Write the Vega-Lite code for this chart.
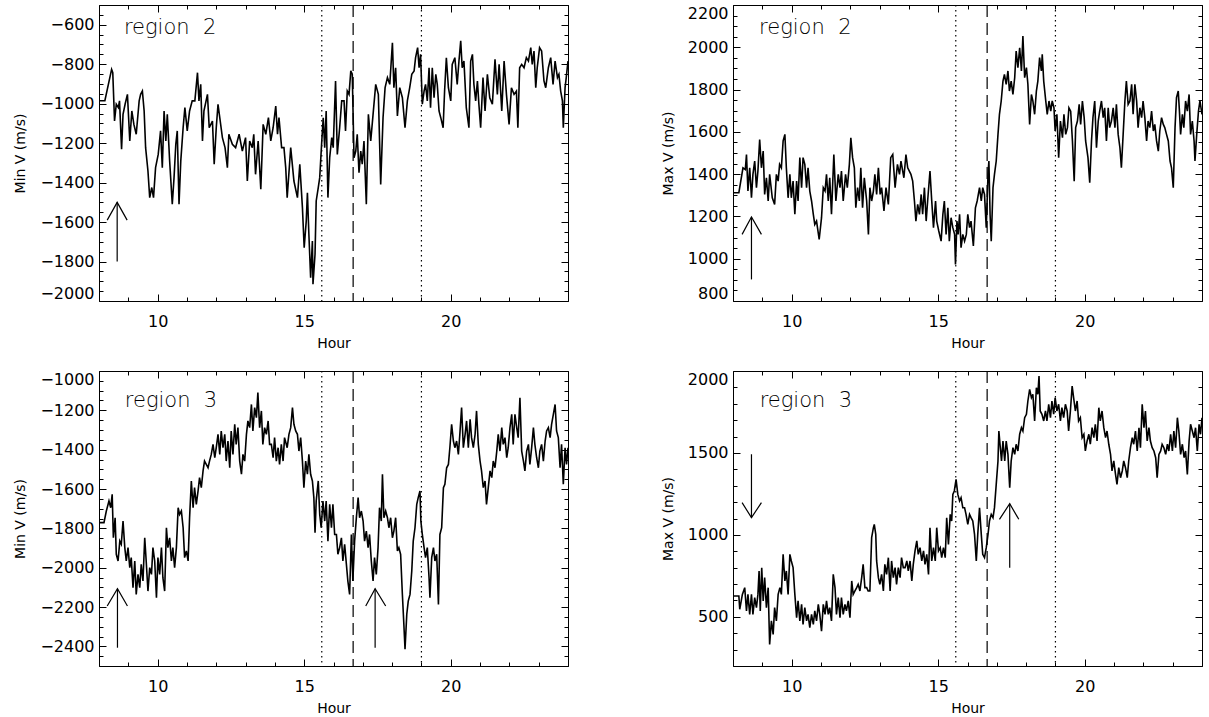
{
"$schema": "https://vega.github.io/schema/vega-lite/v6.json",
"padding": {"left": 13, "top": 4, "right": 0, "bottom": 0},
"columns": 2,
"spacing": {"row": 70, "column": 165},
"bounds": "flush",
"config": {
  "view": {"stroke": null},
  "axis": {"domainColor": "black", "tickColor": "black", "labelColor": "black", "titleColor": "black", "labelFont": "DejaVu Sans", "labelFontSize": 16, "titleFont": "DejaVu Sans", "titleFontSize": 14, "titleFontWeight": "normal", "grid": false, "domainWidth": 1, "tickWidth": 1}
},
"datasets": {
"vl": [{"h":15.6,"k":"dot"},{"h":16.67,"k":"dash"},{"h":19.0,"k":"dot"}],
"tA": [{"h":8.85,"v":-648,"t":"region\u00a0\u00a02"}],
"tB": [{"h":8.89,"v":2061,"t":"region\u00a0\u00a02"}],
"tC": [{"h":8.88,"v":-1181,"t":"region\u00a0\u00a03"}],
"tD": [{"h":8.91,"v":1782,"t":"region\u00a0\u00a03"}],
"arA": [{"id":"s","h":8.62,"v":-1800},{"id":"s","h":8.62,"v":-1500},{"id":"a","h":8.28,"v":-1590},{"id":"a","h":8.62,"v":-1500},{"id":"a","h":8.96,"v":-1590}],
"arB": [{"id":"s","h":8.63,"v":902},{"id":"s","h":8.63,"v":1197},{"id":"a","h":8.31,"v":1115},{"id":"a","h":8.63,"v":1197},{"id":"a","h":8.97,"v":1115}],
"arC": [{"id":"s1","h":8.63,"v":-2407},{"id":"s1","h":8.63,"v":-2107},{"id":"a1","h":8.28,"v":-2195},{"id":"a1","h":8.63,"v":-2107},{"id":"a1","h":8.97,"v":-2195},{"id":"s2","h":17.42,"v":-2407},{"id":"s2","h":17.42,"v":-2107},{"id":"a2","h":17.1,"v":-2195},{"id":"a2","h":17.42,"v":-2107},{"id":"a2","h":17.78,"v":-2195}],
"arD": [{"id":"s1","h":8.63,"v":1492},{"id":"s1","h":8.63,"v":1105},{"id":"a1","h":8.31,"v":1197},{"id":"a1","h":8.63,"v":1105},{"id":"a1","h":8.97,"v":1197},{"id":"s2","h":17.44,"v":800},{"id":"s2","h":17.44,"v":1190},{"id":"a2","h":17.09,"v":1095},{"id":"a2","h":17.44,"v":1190},{"id":"a2","h":17.75,"v":1095}],
"A": [{"h":8.0,"v":-985},{"h":8.2,"v":-985},{"h":8.43,"v":-826},{"h":8.47,"v":-843},{"h":8.53,"v":-1088},{"h":8.59,"v":-1003},{"h":8.66,"v":-1020},{"h":8.7,"v":-986},{"h":8.77,"v":-1231},{"h":8.82,"v":-1054},{"h":8.89,"v":-1003},{"h":8.97,"v":-953},{"h":9.05,"v":-1189},{"h":9.12,"v":-1037},{"h":9.19,"v":-1105},{"h":9.27,"v":-1155},{"h":9.37,"v":-986},{"h":9.42,"v":-953},{"h":9.48,"v":-936},{"h":9.54,"v":-1037},{"h":9.59,"v":-1223},{"h":9.67,"v":-1341},{"h":9.73,"v":-1476},{"h":9.8,"v":-1425},{"h":9.86,"v":-1476},{"h":9.93,"v":-1324},{"h":10.02,"v":-1257},{"h":10.1,"v":-1138},{"h":10.16,"v":-1324},{"h":10.22,"v":-1037},{"h":10.28,"v":-1189},{"h":10.33,"v":-1054},{"h":10.41,"v":-1290},{"h":10.5,"v":-1510},{"h":10.56,"v":-1375},{"h":10.62,"v":-1206},{"h":10.67,"v":-1138},{"h":10.73,"v":-1510},{"h":10.79,"v":-1290},{"h":10.87,"v":-1122},{"h":10.93,"v":-1020},{"h":11.01,"v":-1138},{"h":11.09,"v":-1037},{"h":11.18,"v":-986},{"h":11.27,"v":-986},{"h":11.36,"v":-843},{"h":11.41,"v":-986},{"h":11.47,"v":-902},{"h":11.53,"v":-1189},{"h":11.58,"v":-1037},{"h":11.7,"v":-953},{"h":11.76,"v":-1122},{"h":11.87,"v":-1088},{"h":11.93,"v":-1307},{"h":12.0,"v":-1122},{"h":12.06,"v":-1003},{"h":12.12,"v":-1071},{"h":12.21,"v":-1172},{"h":12.3,"v":-1223},{"h":12.38,"v":-1324},{"h":12.43,"v":-1155},{"h":12.55,"v":-1206},{"h":12.66,"v":-1223},{"h":12.78,"v":-1155},{"h":12.89,"v":-1240},{"h":13.0,"v":-1172},{"h":13.06,"v":-1392},{"h":13.14,"v":-1189},{"h":13.23,"v":-1223},{"h":13.28,"v":-1155},{"h":13.34,"v":-1358},{"h":13.43,"v":-1189},{"h":13.52,"v":-1434},{"h":13.6,"v":-1105},{"h":13.69,"v":-1155},{"h":13.78,"v":-1071},{"h":13.86,"v":-1189},{"h":13.94,"v":-1122},{"h":14.03,"v":-1012},{"h":14.09,"v":-1155},{"h":14.14,"v":-1071},{"h":14.23,"v":-1223},{"h":14.31,"v":-1223},{"h":14.37,"v":-1324},{"h":14.42,"v":-1476},{"h":14.54,"v":-1223},{"h":14.65,"v":-1392},{"h":14.77,"v":-1476},{"h":14.85,"v":-1307},{"h":14.94,"v":-1527},{"h":15.0,"v":-1730},{"h":15.07,"v":-1595},{"h":15.11,"v":-1451},{"h":15.16,"v":-1662},{"h":15.22,"v":-1882},{"h":15.28,"v":-1696},{"h":15.3,"v":-1915},{"h":15.37,"v":-1763},{"h":15.41,"v":-1493},{"h":15.48,"v":-1425},{"h":15.53,"v":-1375},{"h":15.6,"v":-1189},{"h":15.65,"v":-1071},{"h":15.7,"v":-1223},{"h":15.75,"v":-1037},{"h":15.81,"v":-1476},{"h":15.87,"v":-1274},{"h":15.94,"v":-1172},{"h":15.99,"v":-1223},{"h":16.07,"v":-885},{"h":16.13,"v":-1257},{"h":16.21,"v":-1122},{"h":16.28,"v":-986},{"h":16.36,"v":-986},{"h":16.41,"v":-1138},{"h":16.47,"v":-936},{"h":16.53,"v":-953},{"h":16.59,"v":-834},{"h":16.64,"v":-851},{"h":16.7,"v":-1274},{"h":16.76,"v":-1240},{"h":16.81,"v":-1155},{"h":16.87,"v":-1350},{"h":16.93,"v":-1240},{"h":16.98,"v":-1307},{"h":17.04,"v":-1189},{"h":17.12,"v":-1510},{"h":17.19,"v":-1054},{"h":17.27,"v":-1189},{"h":17.35,"v":-1054},{"h":17.44,"v":-902},{"h":17.53,"v":-953},{"h":17.61,"v":-1409},{"h":17.69,"v":-1071},{"h":17.76,"v":-919},{"h":17.84,"v":-868},{"h":17.92,"v":-902},{"h":18.01,"v":-691},{"h":18.06,"v":-919},{"h":18.12,"v":-818},{"h":18.18,"v":-1062},{"h":18.26,"v":-919},{"h":18.35,"v":-970},{"h":18.44,"v":-1122},{"h":18.52,"v":-986},{"h":18.6,"v":-919},{"h":18.67,"v":-851},{"h":18.75,"v":-834},{"h":18.8,"v":-767},{"h":18.87,"v":-716},{"h":18.92,"v":-818},{"h":18.97,"v":-750},{"h":19.03,"v":-1003},{"h":19.09,"v":-936},{"h":19.14,"v":-902},{"h":19.2,"v":-986},{"h":19.26,"v":-818},{"h":19.31,"v":-1020},{"h":19.37,"v":-818},{"h":19.43,"v":-970},{"h":19.49,"v":-851},{"h":19.54,"v":-902},{"h":19.6,"v":-1037},{"h":19.66,"v":-1071},{"h":19.74,"v":-1122},{"h":19.79,"v":-936},{"h":19.85,"v":-767},{"h":19.92,"v":-919},{"h":20.0,"v":-986},{"h":20.05,"v":-801},{"h":20.14,"v":-767},{"h":20.22,"v":-902},{"h":20.28,"v":-784},{"h":20.34,"v":-682},{"h":20.39,"v":-818},{"h":20.45,"v":-784},{"h":20.53,"v":-1020},{"h":20.62,"v":-1122},{"h":20.68,"v":-784},{"h":20.74,"v":-750},{"h":20.79,"v":-902},{"h":20.85,"v":-986},{"h":20.91,"v":-885},{"h":20.96,"v":-1003},{"h":21.02,"v":-1122},{"h":21.1,"v":-868},{"h":21.17,"v":-1037},{"h":21.25,"v":-851},{"h":21.33,"v":-970},{"h":21.42,"v":-1003},{"h":21.51,"v":-775},{"h":21.59,"v":-953},{"h":21.65,"v":-801},{"h":21.74,"v":-1037},{"h":21.82,"v":-784},{"h":21.9,"v":-953},{"h":21.99,"v":-1105},{"h":22.07,"v":-919},{"h":22.16,"v":-953},{"h":22.24,"v":-936},{"h":22.29,"v":-1122},{"h":22.35,"v":-818},{"h":22.42,"v":-801},{"h":22.5,"v":-818},{"h":22.58,"v":-767},{"h":22.65,"v":-784},{"h":22.73,"v":-716},{"h":22.78,"v":-801},{"h":22.84,"v":-733},{"h":22.9,"v":-919},{"h":22.95,"v":-818},{"h":23.03,"v":-716},{"h":23.1,"v":-733},{"h":23.18,"v":-885},{"h":23.24,"v":-919},{"h":23.33,"v":-818},{"h":23.41,"v":-767},{"h":23.49,"v":-902},{"h":23.56,"v":-784},{"h":23.64,"v":-868},{"h":23.69,"v":-851},{"h":23.75,"v":-936},{"h":23.81,"v":-986},{"h":23.84,"v":-1122},{"h":23.9,"v":-919},{"h":23.94,"v":-868},{"h":24.0,"v":-784}],
"B": [{"h":8.0,"v":1312},{"h":8.2,"v":1312},{"h":8.34,"v":1430},{"h":8.42,"v":1422},{"h":8.46,"v":1493},{"h":8.51,"v":1320},{"h":8.57,"v":1430},{"h":8.63,"v":1288},{"h":8.68,"v":1399},{"h":8.74,"v":1462},{"h":8.8,"v":1336},{"h":8.85,"v":1415},{"h":8.91,"v":1564},{"h":8.97,"v":1430},{"h":9.03,"v":1509},{"h":9.08,"v":1304},{"h":9.14,"v":1383},{"h":9.2,"v":1273},{"h":9.25,"v":1399},{"h":9.34,"v":1288},{"h":9.42,"v":1257},{"h":9.48,"v":1399},{"h":9.54,"v":1367},{"h":9.59,"v":1446},{"h":9.65,"v":1430},{"h":9.71,"v":1557},{"h":9.77,"v":1588},{"h":9.82,"v":1430},{"h":9.88,"v":1288},{"h":9.94,"v":1399},{"h":9.99,"v":1288},{"h":10.05,"v":1367},{"h":10.11,"v":1210},{"h":10.17,"v":1367},{"h":10.22,"v":1273},{"h":10.28,"v":1478},{"h":10.34,"v":1336},{"h":10.39,"v":1478},{"h":10.45,"v":1446},{"h":10.51,"v":1336},{"h":10.56,"v":1430},{"h":10.62,"v":1320},{"h":10.68,"v":1273},{"h":10.74,"v":1210},{"h":10.79,"v":1162},{"h":10.85,"v":1178},{"h":10.94,"v":1091},{"h":11.02,"v":1194},{"h":11.08,"v":1336},{"h":11.14,"v":1320},{"h":11.19,"v":1399},{"h":11.25,"v":1273},{"h":11.3,"v":1383},{"h":11.36,"v":1210},{"h":11.44,"v":1493},{"h":11.51,"v":1273},{"h":11.59,"v":1399},{"h":11.65,"v":1336},{"h":11.7,"v":1415},{"h":11.76,"v":1273},{"h":11.84,"v":1399},{"h":11.9,"v":1336},{"h":11.97,"v":1446},{"h":12.02,"v":1572},{"h":12.08,"v":1478},{"h":12.14,"v":1430},{"h":12.19,"v":1241},{"h":12.25,"v":1336},{"h":12.31,"v":1273},{"h":12.36,"v":1430},{"h":12.42,"v":1241},{"h":12.48,"v":1383},{"h":12.56,"v":1273},{"h":12.62,"v":1115},{"h":12.67,"v":1336},{"h":12.73,"v":1273},{"h":12.79,"v":1320},{"h":12.84,"v":1399},{"h":12.9,"v":1304},{"h":12.96,"v":1430},{"h":13.02,"v":1304},{"h":13.07,"v":1336},{"h":13.15,"v":1226},{"h":13.22,"v":1336},{"h":13.3,"v":1257},{"h":13.38,"v":1478},{"h":13.45,"v":1493},{"h":13.53,"v":1336},{"h":13.61,"v":1446},{"h":13.68,"v":1399},{"h":13.73,"v":1462},{"h":13.83,"v":1383},{"h":13.9,"v":1493},{"h":13.96,"v":1430},{"h":14.07,"v":1399},{"h":14.13,"v":1367},{"h":14.19,"v":1273},{"h":14.24,"v":1178},{"h":14.3,"v":1257},{"h":14.36,"v":1210},{"h":14.42,"v":1304},{"h":14.47,"v":1210},{"h":14.53,"v":1336},{"h":14.59,"v":1178},{"h":14.64,"v":1273},{"h":14.72,"v":1415},{"h":14.78,"v":1273},{"h":14.84,"v":1147},{"h":14.91,"v":1273},{"h":14.95,"v":1178},{"h":15.02,"v":1131},{"h":15.1,"v":1083},{"h":15.16,"v":1210},{"h":15.21,"v":1273},{"h":15.27,"v":1115},{"h":15.33,"v":1241},{"h":15.38,"v":1083},{"h":15.44,"v":1194},{"h":15.5,"v":1147},{"h":15.56,"v":1115},{"h":15.59,"v":973},{"h":15.64,"v":1178},{"h":15.68,"v":1115},{"h":15.73,"v":1210},{"h":15.78,"v":1052},{"h":15.84,"v":1115},{"h":15.9,"v":1083},{"h":15.96,"v":1115},{"h":16.01,"v":1210},{"h":16.07,"v":1147},{"h":16.12,"v":1178},{"h":16.2,"v":1060},{"h":16.27,"v":1241},{"h":16.33,"v":1273},{"h":16.41,"v":1336},{"h":16.47,"v":1273},{"h":16.52,"v":1336},{"h":16.58,"v":1304},{"h":16.64,"v":1147},{"h":16.7,"v":1399},{"h":16.73,"v":1462},{"h":16.77,"v":1210},{"h":16.81,"v":1083},{"h":16.87,"v":1336},{"h":16.92,"v":1399},{"h":16.98,"v":1462},{"h":17.04,"v":1588},{"h":17.09,"v":1683},{"h":17.15,"v":1746},{"h":17.21,"v":1840},{"h":17.26,"v":1872},{"h":17.32,"v":1825},{"h":17.38,"v":1888},{"h":17.43,"v":1793},{"h":17.49,"v":1840},{"h":17.55,"v":1777},{"h":17.61,"v":1856},{"h":17.66,"v":1982},{"h":17.72,"v":1904},{"h":17.78,"v":1998},{"h":17.84,"v":1888},{"h":17.89,"v":2053},{"h":17.95,"v":1856},{"h":18.01,"v":1904},{"h":18.06,"v":1825},{"h":18.12,"v":1635},{"h":18.18,"v":1777},{"h":18.23,"v":1746},{"h":18.29,"v":1683},{"h":18.35,"v":1793},{"h":18.4,"v":1840},{"h":18.46,"v":1951},{"h":18.52,"v":1888},{"h":18.55,"v":1967},{"h":18.6,"v":1840},{"h":18.67,"v":1746},{"h":18.72,"v":1683},{"h":18.78,"v":1746},{"h":18.84,"v":1698},{"h":18.89,"v":1746},{"h":18.95,"v":1714},{"h":18.99,"v":1604},{"h":19.05,"v":1683},{"h":19.11,"v":1478},{"h":19.17,"v":1651},{"h":19.24,"v":1572},{"h":19.29,"v":1683},{"h":19.35,"v":1588},{"h":19.41,"v":1620},{"h":19.46,"v":1714},{"h":19.52,"v":1698},{"h":19.58,"v":1557},{"h":19.64,"v":1367},{"h":19.69,"v":1620},{"h":19.75,"v":1651},{"h":19.81,"v":1730},{"h":19.86,"v":1635},{"h":19.92,"v":1746},{"h":19.98,"v":1667},{"h":20.03,"v":1557},{"h":20.11,"v":1478},{"h":20.17,"v":1359},{"h":20.23,"v":1557},{"h":20.28,"v":1667},{"h":20.34,"v":1746},{"h":20.4,"v":1525},{"h":20.46,"v":1651},{"h":20.51,"v":1698},{"h":20.57,"v":1746},{"h":20.63,"v":1667},{"h":20.68,"v":1714},{"h":20.74,"v":1557},{"h":20.8,"v":1714},{"h":20.85,"v":1620},{"h":20.91,"v":1651},{"h":20.97,"v":1714},{"h":21.03,"v":1620},{"h":21.08,"v":1730},{"h":21.14,"v":1588},{"h":21.2,"v":1525},{"h":21.25,"v":1430},{"h":21.31,"v":1588},{"h":21.37,"v":1746},{"h":21.42,"v":1840},{"h":21.48,"v":1730},{"h":21.54,"v":1746},{"h":21.6,"v":1825},{"h":21.65,"v":1683},{"h":21.71,"v":1825},{"h":21.77,"v":1746},{"h":21.82,"v":1620},{"h":21.88,"v":1714},{"h":21.94,"v":1667},{"h":21.99,"v":1746},{"h":22.05,"v":1667},{"h":22.11,"v":1557},{"h":22.16,"v":1651},{"h":22.22,"v":1620},{"h":22.28,"v":1698},{"h":22.34,"v":1604},{"h":22.39,"v":1635},{"h":22.45,"v":1557},{"h":22.51,"v":1509},{"h":22.56,"v":1604},{"h":22.62,"v":1667},{"h":22.68,"v":1635},{"h":22.73,"v":1620},{"h":22.79,"v":1588},{"h":22.85,"v":1557},{"h":22.91,"v":1462},{"h":22.96,"v":1430},{"h":23.02,"v":1336},{"h":23.08,"v":1620},{"h":23.13,"v":1762},{"h":23.19,"v":1793},{"h":23.23,"v":1698},{"h":23.27,"v":1588},{"h":23.33,"v":1683},{"h":23.38,"v":1620},{"h":23.44,"v":1746},{"h":23.5,"v":1698},{"h":23.56,"v":1777},{"h":23.61,"v":1588},{"h":23.67,"v":1651},{"h":23.73,"v":1557},{"h":23.76,"v":1462},{"h":23.82,"v":1588},{"h":23.88,"v":1698},{"h":23.93,"v":1746},{"h":24.0,"v":1683}],
"C": [{"h":8.0,"v":-1771},{"h":8.17,"v":-1771},{"h":8.25,"v":-1712},{"h":8.34,"v":-1661},{"h":8.4,"v":-1695},{"h":8.45,"v":-1627},{"h":8.49,"v":-1848},{"h":8.55,"v":-1746},{"h":8.59,"v":-1932},{"h":8.65,"v":-1966},{"h":8.71,"v":-1865},{"h":8.76,"v":-1881},{"h":8.82,"v":-1763},{"h":8.88,"v":-1898},{"h":8.93,"v":-1966},{"h":8.99,"v":-1898},{"h":9.05,"v":-2000},{"h":9.1,"v":-1949},{"h":9.16,"v":-2102},{"h":9.22,"v":-1966},{"h":9.27,"v":-2136},{"h":9.33,"v":-2034},{"h":9.39,"v":-2102},{"h":9.44,"v":-1983},{"h":9.5,"v":-2068},{"h":9.56,"v":-1848},{"h":9.61,"v":-1966},{"h":9.67,"v":-2119},{"h":9.73,"v":-2000},{"h":9.79,"v":-2034},{"h":9.84,"v":-1898},{"h":9.9,"v":-1966},{"h":9.96,"v":-2153},{"h":10.01,"v":-1949},{"h":10.07,"v":-2034},{"h":10.13,"v":-1898},{"h":10.18,"v":-2051},{"h":10.24,"v":-2119},{"h":10.3,"v":-1797},{"h":10.35,"v":-1898},{"h":10.41,"v":-1848},{"h":10.47,"v":-1966},{"h":10.52,"v":-1898},{"h":10.58,"v":-2000},{"h":10.64,"v":-1898},{"h":10.7,"v":-1695},{"h":10.75,"v":-1729},{"h":10.81,"v":-1712},{"h":10.87,"v":-1797},{"h":10.92,"v":-1949},{"h":10.98,"v":-1915},{"h":11.04,"v":-1966},{"h":11.09,"v":-1746},{"h":11.15,"v":-1559},{"h":11.21,"v":-1695},{"h":11.26,"v":-1593},{"h":11.32,"v":-1678},{"h":11.38,"v":-1610},{"h":11.43,"v":-1542},{"h":11.49,"v":-1593},{"h":11.55,"v":-1508},{"h":11.6,"v":-1458},{"h":11.66,"v":-1475},{"h":11.72,"v":-1492},{"h":11.77,"v":-1458},{"h":11.83,"v":-1424},{"h":11.89,"v":-1373},{"h":11.95,"v":-1441},{"h":12.0,"v":-1390},{"h":12.06,"v":-1322},{"h":12.12,"v":-1424},{"h":12.17,"v":-1305},{"h":12.23,"v":-1390},{"h":12.29,"v":-1322},{"h":12.34,"v":-1458},{"h":12.4,"v":-1356},{"h":12.46,"v":-1492},{"h":12.51,"v":-1305},{"h":12.57,"v":-1424},{"h":12.63,"v":-1271},{"h":12.68,"v":-1373},{"h":12.74,"v":-1288},{"h":12.8,"v":-1458},{"h":12.86,"v":-1525},{"h":12.91,"v":-1424},{"h":12.97,"v":-1458},{"h":13.03,"v":-1322},{"h":13.08,"v":-1254},{"h":13.14,"v":-1288},{"h":13.2,"v":-1170},{"h":13.25,"v":-1305},{"h":13.31,"v":-1186},{"h":13.37,"v":-1237},{"h":13.42,"v":-1110},{"h":13.48,"v":-1288},{"h":13.54,"v":-1203},{"h":13.59,"v":-1373},{"h":13.65,"v":-1288},{"h":13.71,"v":-1322},{"h":13.77,"v":-1254},{"h":13.82,"v":-1373},{"h":13.88,"v":-1373},{"h":13.94,"v":-1441},{"h":13.99,"v":-1339},{"h":14.05,"v":-1458},{"h":14.11,"v":-1390},{"h":14.16,"v":-1475},{"h":14.22,"v":-1373},{"h":14.28,"v":-1458},{"h":14.33,"v":-1339},{"h":14.42,"v":-1390},{"h":14.48,"v":-1322},{"h":14.54,"v":-1288},{"h":14.6,"v":-1186},{"h":14.65,"v":-1271},{"h":14.71,"v":-1305},{"h":14.77,"v":-1322},{"h":14.82,"v":-1407},{"h":14.88,"v":-1339},{"h":14.94,"v":-1458},{"h":14.99,"v":-1593},{"h":15.05,"v":-1458},{"h":15.11,"v":-1525},{"h":15.16,"v":-1424},{"h":15.22,"v":-1525},{"h":15.28,"v":-1559},{"h":15.33,"v":-1644},{"h":15.37,"v":-1822},{"h":15.41,"v":-1661},{"h":15.48,"v":-1559},{"h":15.53,"v":-1729},{"h":15.58,"v":-1797},{"h":15.64,"v":-1661},{"h":15.7,"v":-1763},{"h":15.75,"v":-1661},{"h":15.81,"v":-1865},{"h":15.87,"v":-1678},{"h":15.93,"v":-1797},{"h":15.98,"v":-1678},{"h":16.04,"v":-1831},{"h":16.1,"v":-1831},{"h":16.15,"v":-1932},{"h":16.21,"v":-1898},{"h":16.27,"v":-1848},{"h":16.32,"v":-1966},{"h":16.38,"v":-1881},{"h":16.44,"v":-1983},{"h":16.49,"v":-2068},{"h":16.55,"v":-2136},{"h":16.61,"v":-1831},{"h":16.66,"v":-2068},{"h":16.72,"v":-1865},{"h":16.78,"v":-1746},{"h":16.84,"v":-1644},{"h":16.89,"v":-1746},{"h":16.95,"v":-1712},{"h":17.01,"v":-1763},{"h":17.06,"v":-1865},{"h":17.12,"v":-1814},{"h":17.18,"v":-1898},{"h":17.23,"v":-1831},{"h":17.29,"v":-1966},{"h":17.35,"v":-2068},{"h":17.4,"v":-1949},{"h":17.46,"v":-2034},{"h":17.52,"v":-1898},{"h":17.57,"v":-1695},{"h":17.63,"v":-1763},{"h":17.67,"v":-1525},{"h":17.72,"v":-1746},{"h":17.78,"v":-1712},{"h":17.84,"v":-1746},{"h":17.89,"v":-1797},{"h":17.95,"v":-1746},{"h":18.01,"v":-1848},{"h":18.06,"v":-1814},{"h":18.12,"v":-1746},{"h":18.18,"v":-1915},{"h":18.23,"v":-1898},{"h":18.29,"v":-1932},{"h":18.35,"v":-2136},{"h":18.4,"v":-2288},{"h":18.44,"v":-2415},{"h":18.5,"v":-2237},{"h":18.55,"v":-2170},{"h":18.61,"v":-2136},{"h":18.67,"v":-2017},{"h":18.72,"v":-1865},{"h":18.78,"v":-1797},{"h":18.84,"v":-1678},{"h":18.89,"v":-1644},{"h":18.95,"v":-1610},{"h":18.98,"v":-1763},{"h":19.03,"v":-1831},{"h":19.09,"v":-1898},{"h":19.14,"v":-1949},{"h":19.2,"v":-1898},{"h":19.26,"v":-2051},{"h":19.29,"v":-2153},{"h":19.35,"v":-1949},{"h":19.41,"v":-1898},{"h":19.46,"v":-1966},{"h":19.52,"v":-1932},{"h":19.58,"v":-2187},{"h":19.63,"v":-1831},{"h":19.69,"v":-1797},{"h":19.75,"v":-1593},{"h":19.8,"v":-1576},{"h":19.86,"v":-1492},{"h":19.92,"v":-1475},{"h":19.97,"v":-1390},{"h":20.03,"v":-1271},{"h":20.09,"v":-1356},{"h":20.14,"v":-1390},{"h":20.2,"v":-1356},{"h":20.26,"v":-1424},{"h":20.31,"v":-1322},{"h":20.37,"v":-1186},{"h":20.43,"v":-1390},{"h":20.49,"v":-1322},{"h":20.54,"v":-1254},{"h":20.6,"v":-1390},{"h":20.66,"v":-1246},{"h":20.71,"v":-1339},{"h":20.77,"v":-1390},{"h":20.83,"v":-1322},{"h":20.88,"v":-1203},{"h":20.94,"v":-1373},{"h":21.0,"v":-1458},{"h":21.05,"v":-1508},{"h":21.11,"v":-1593},{"h":21.17,"v":-1559},{"h":21.22,"v":-1678},{"h":21.28,"v":-1593},{"h":21.34,"v":-1508},{"h":21.4,"v":-1542},{"h":21.45,"v":-1458},{"h":21.51,"v":-1492},{"h":21.57,"v":-1407},{"h":21.62,"v":-1322},{"h":21.68,"v":-1407},{"h":21.74,"v":-1288},{"h":21.79,"v":-1373},{"h":21.85,"v":-1339},{"h":21.91,"v":-1441},{"h":21.96,"v":-1390},{"h":22.02,"v":-1288},{"h":22.08,"v":-1220},{"h":22.13,"v":-1373},{"h":22.19,"v":-1220},{"h":22.25,"v":-1288},{"h":22.3,"v":-1339},{"h":22.36,"v":-1136},{"h":22.42,"v":-1407},{"h":22.48,"v":-1458},{"h":22.53,"v":-1508},{"h":22.59,"v":-1407},{"h":22.65,"v":-1373},{"h":22.7,"v":-1475},{"h":22.76,"v":-1390},{"h":22.82,"v":-1288},{"h":22.87,"v":-1373},{"h":22.93,"v":-1441},{"h":22.99,"v":-1492},{"h":23.04,"v":-1407},{"h":23.1,"v":-1373},{"h":23.16,"v":-1458},{"h":23.22,"v":-1356},{"h":23.27,"v":-1305},{"h":23.33,"v":-1288},{"h":23.39,"v":-1339},{"h":23.44,"v":-1271},{"h":23.5,"v":-1220},{"h":23.56,"v":-1170},{"h":23.61,"v":-1305},{"h":23.67,"v":-1339},{"h":23.73,"v":-1492},{"h":23.78,"v":-1373},{"h":23.84,"v":-1576},{"h":23.9,"v":-1390},{"h":23.95,"v":-1475},{"h":24.0,"v":-1390}],
"D": [{"h":8.0,"v":627},{"h":8.2,"v":627},{"h":8.23,"v":546},{"h":8.32,"v":637},{"h":8.4,"v":678},{"h":8.46,"v":536},{"h":8.51,"v":637},{"h":8.57,"v":515},{"h":8.63,"v":637},{"h":8.68,"v":515},{"h":8.74,"v":617},{"h":8.8,"v":556},{"h":8.85,"v":637},{"h":8.89,"v":780},{"h":8.93,"v":536},{"h":8.98,"v":800},{"h":9.03,"v":597},{"h":9.08,"v":739},{"h":9.14,"v":556},{"h":9.2,"v":678},{"h":9.25,"v":332},{"h":9.31,"v":475},{"h":9.37,"v":393},{"h":9.42,"v":556},{"h":9.48,"v":475},{"h":9.54,"v":637},{"h":9.6,"v":678},{"h":9.65,"v":637},{"h":9.71,"v":881},{"h":9.77,"v":719},{"h":9.82,"v":780},{"h":9.88,"v":637},{"h":9.94,"v":881},{"h":9.99,"v":841},{"h":10.05,"v":800},{"h":10.11,"v":637},{"h":10.17,"v":495},{"h":10.22,"v":597},{"h":10.28,"v":475},{"h":10.34,"v":576},{"h":10.39,"v":454},{"h":10.45,"v":556},{"h":10.51,"v":475},{"h":10.56,"v":515},{"h":10.62,"v":434},{"h":10.68,"v":515},{"h":10.74,"v":454},{"h":10.79,"v":536},{"h":10.85,"v":475},{"h":10.91,"v":576},{"h":10.96,"v":515},{"h":11.02,"v":413},{"h":11.08,"v":576},{"h":11.14,"v":515},{"h":11.19,"v":597},{"h":11.25,"v":515},{"h":11.3,"v":556},{"h":11.36,"v":475},{"h":11.42,"v":759},{"h":11.48,"v":678},{"h":11.53,"v":515},{"h":11.59,"v":617},{"h":11.65,"v":495},{"h":11.7,"v":617},{"h":11.76,"v":515},{"h":11.82,"v":576},{"h":11.87,"v":536},{"h":11.93,"v":597},{"h":11.99,"v":495},{"h":12.05,"v":719},{"h":12.1,"v":637},{"h":12.16,"v":658},{"h":12.22,"v":678},{"h":12.27,"v":698},{"h":12.33,"v":658},{"h":12.39,"v":739},{"h":12.44,"v":820},{"h":12.5,"v":678},{"h":12.56,"v":678},{"h":12.61,"v":658},{"h":12.67,"v":658},{"h":12.73,"v":983},{"h":12.79,"v":1044},{"h":12.82,"v":1064},{"h":12.87,"v":1003},{"h":12.9,"v":841},{"h":12.96,"v":739},{"h":13.01,"v":698},{"h":13.07,"v":759},{"h":13.13,"v":658},{"h":13.18,"v":820},{"h":13.24,"v":759},{"h":13.3,"v":861},{"h":13.36,"v":658},{"h":13.41,"v":841},{"h":13.47,"v":739},{"h":13.53,"v":800},{"h":13.58,"v":698},{"h":13.64,"v":800},{"h":13.7,"v":739},{"h":13.75,"v":861},{"h":13.81,"v":800},{"h":13.87,"v":800},{"h":13.93,"v":841},{"h":13.98,"v":780},{"h":14.04,"v":841},{"h":14.1,"v":719},{"h":14.15,"v":820},{"h":14.21,"v":902},{"h":14.27,"v":963},{"h":14.32,"v":881},{"h":14.38,"v":922},{"h":14.44,"v":841},{"h":14.5,"v":902},{"h":14.55,"v":820},{"h":14.61,"v":881},{"h":14.67,"v":759},{"h":14.72,"v":1044},{"h":14.78,"v":841},{"h":14.84,"v":922},{"h":14.9,"v":841},{"h":14.95,"v":1044},{"h":15.01,"v":902},{"h":15.07,"v":922},{"h":15.12,"v":861},{"h":15.18,"v":922},{"h":15.24,"v":861},{"h":15.29,"v":1105},{"h":15.35,"v":942},{"h":15.41,"v":1125},{"h":15.46,"v":1085},{"h":15.5,"v":1247},{"h":15.55,"v":1268},{"h":15.61,"v":1339},{"h":15.67,"v":1247},{"h":15.73,"v":1207},{"h":15.78,"v":1227},{"h":15.84,"v":1166},{"h":15.9,"v":1166},{"h":15.95,"v":1125},{"h":16.01,"v":1064},{"h":16.07,"v":1125},{"h":16.12,"v":1105},{"h":16.18,"v":1085},{"h":16.24,"v":1003},{"h":16.3,"v":841},{"h":16.35,"v":1003},{"h":16.41,"v":1166},{"h":16.47,"v":1003},{"h":16.52,"v":881},{"h":16.58,"v":861},{"h":16.64,"v":922},{"h":16.7,"v":1003},{"h":16.75,"v":1085},{"h":16.81,"v":1125},{"h":16.87,"v":1105},{"h":16.92,"v":1166},{"h":16.98,"v":1308},{"h":17.04,"v":1451},{"h":17.07,"v":1634},{"h":17.12,"v":1532},{"h":17.16,"v":1451},{"h":17.21,"v":1573},{"h":17.27,"v":1451},{"h":17.32,"v":1573},{"h":17.38,"v":1491},{"h":17.44,"v":1288},{"h":17.49,"v":1451},{"h":17.55,"v":1532},{"h":17.61,"v":1491},{"h":17.66,"v":1553},{"h":17.72,"v":1512},{"h":17.78,"v":1614},{"h":17.84,"v":1654},{"h":17.89,"v":1634},{"h":17.95,"v":1715},{"h":18.01,"v":1736},{"h":18.06,"v":1817},{"h":18.12,"v":1888},{"h":18.18,"v":1837},{"h":18.23,"v":1858},{"h":18.29,"v":1695},{"h":18.35,"v":1898},{"h":18.4,"v":1858},{"h":18.44,"v":1969},{"h":18.48,"v":1756},{"h":18.54,"v":1736},{"h":18.6,"v":1695},{"h":18.66,"v":1756},{"h":18.71,"v":1695},{"h":18.77,"v":1797},{"h":18.83,"v":1715},{"h":18.88,"v":1817},{"h":18.94,"v":1736},{"h":18.99,"v":1837},{"h":19.05,"v":1756},{"h":19.11,"v":1797},{"h":19.17,"v":1695},{"h":19.22,"v":1776},{"h":19.28,"v":1715},{"h":19.34,"v":1797},{"h":19.4,"v":1756},{"h":19.45,"v":1634},{"h":19.51,"v":1756},{"h":19.57,"v":1908},{"h":19.62,"v":1837},{"h":19.68,"v":1756},{"h":19.74,"v":1817},{"h":19.79,"v":1695},{"h":19.85,"v":1715},{"h":19.91,"v":1593},{"h":19.97,"v":1614},{"h":20.02,"v":1512},{"h":20.08,"v":1573},{"h":20.14,"v":1614},{"h":20.19,"v":1553},{"h":20.25,"v":1654},{"h":20.31,"v":1593},{"h":20.36,"v":1675},{"h":20.42,"v":1573},{"h":20.48,"v":1776},{"h":20.53,"v":1695},{"h":20.59,"v":1756},{"h":20.65,"v":1654},{"h":20.71,"v":1593},{"h":20.76,"v":1634},{"h":20.82,"v":1553},{"h":20.88,"v":1491},{"h":20.93,"v":1390},{"h":20.99,"v":1451},{"h":21.05,"v":1369},{"h":21.1,"v":1308},{"h":21.16,"v":1410},{"h":21.22,"v":1349},{"h":21.28,"v":1390},{"h":21.33,"v":1451},{"h":21.39,"v":1410},{"h":21.45,"v":1349},{"h":21.5,"v":1451},{"h":21.56,"v":1532},{"h":21.62,"v":1593},{"h":21.67,"v":1553},{"h":21.73,"v":1634},{"h":21.79,"v":1512},{"h":21.85,"v":1654},{"h":21.9,"v":1532},{"h":21.96,"v":1797},{"h":22.02,"v":1654},{"h":22.07,"v":1756},{"h":22.13,"v":1573},{"h":22.19,"v":1654},{"h":22.24,"v":1573},{"h":22.3,"v":1532},{"h":22.36,"v":1512},{"h":22.42,"v":1471},{"h":22.47,"v":1349},{"h":22.53,"v":1491},{"h":22.59,"v":1512},{"h":22.64,"v":1553},{"h":22.7,"v":1532},{"h":22.76,"v":1491},{"h":22.82,"v":1553},{"h":22.87,"v":1512},{"h":22.93,"v":1614},{"h":22.99,"v":1512},{"h":23.04,"v":1634},{"h":23.1,"v":1532},{"h":23.16,"v":1715},{"h":23.21,"v":1634},{"h":23.27,"v":1491},{"h":23.33,"v":1553},{"h":23.39,"v":1471},{"h":23.44,"v":1512},{"h":23.5,"v":1369},{"h":23.56,"v":1573},{"h":23.61,"v":1675},{"h":23.67,"v":1634},{"h":23.73,"v":1593},{"h":23.78,"v":1654},{"h":23.84,"v":1512},{"h":23.9,"v":1675},{"h":23.95,"v":1614},{"h":24.0,"v":1715}]
},
"concat": [
{"width": 469, "height": 296,
 "layer": [
  {"data": {"name": "A"}, "mark": {"type": "line", "color": "black", "strokeWidth": 1.6},
   "encoding": {
    "x": {"field": "h", "type": "quantitative", "scale": {"domain": [8, 24], "nice": false, "zero": false},
      "axis": {"orient": "bottom", "title": "Hour", "format": "d", "values": [8,9,10,11,12,13,14,15,16,17,18,19,20,21,22,23,24], "labelExpr": "datum.value % 5 === 0 ? datum.label : ''", "tickSize": {"condition": {"test": "datum.value % 5 === 0", "value": -7}, "value": -4}, "labelPadding": 19, "titlePadding": 4, "labelOverlap": false, "labelFlush": false}},
    "y": {"field": "v", "type": "quantitative", "scale": {"domain": [-2000, -500], "nice": false, "zero": false},
      "axis": {"orient": "left", "title": "Min V (m/s)", "format": "d", "values": [-2000,-1950,-1900,-1850,-1800,-1750,-1700,-1650,-1600,-1550,-1500,-1450,-1400,-1350,-1300,-1250,-1200,-1150,-1100,-1050,-1000,-950,-900,-850,-800,-750,-700,-650,-600,-550,-500], "labelExpr": "datum.value % 200 === 0 ? datum.label : ''", "tickSize": {"condition": {"test": "datum.value % 200 === 0", "value": -7}, "value": -4}, "labelPadding": 12, "titlePadding": 12, "labelFlush": true, "labelOverlap": false}}
   }},
  {"data": {"name": "vl"}, "mark": {"type": "rule", "color": "black", "strokeWidth": 1.2},
   "encoding": {
    "x": {"field": "h", "type": "quantitative", "scale": {"domain": [8, 24], "nice": false, "zero": false},
      "axis": {"orient": "top", "title": null, "labels": false, "values": [8,9,10,11,12,13,14,15,16,17,18,19,20,21,22,23,24], "tickSize": {"condition": {"test": "datum.value % 5 === 0", "value": -7}, "value": -4}}},
    "strokeDash": {"field": "k", "type": "nominal", "scale": {"domain": ["dot", "dash"], "range": [[1.5, 3.5], [12, 6]]}, "legend": null}
   }},
  {"data": {"name": "arA"}, "mark": {"type": "line", "color": "black", "strokeWidth": 1.2},
   "encoding": {
    "x": {"field": "h", "type": "quantitative", "scale": {"domain": [8, 24], "nice": false, "zero": false}, "axis": null},
    "y": {"field": "v", "type": "quantitative", "scale": {"domain": [-2000, -500], "nice": false, "zero": false},
      "axis": {"orient": "right", "title": null, "labels": false, "values": [-2000,-1950,-1900,-1850,-1800,-1750,-1700,-1650,-1600,-1550,-1500,-1450,-1400,-1350,-1300,-1250,-1200,-1150,-1100,-1050,-1000,-950,-900,-850,-800,-750,-700,-650,-600,-550,-500], "tickSize": {"condition": {"test": "datum.value % 200 === 0", "value": -7}, "value": -4}}},
    "detail": {"field": "id"}
   }},
  {"data": {"name": "tA"}, "mark": {"type": "text", "align": "left", "baseline": "alphabetic", "fontSize": 21, "font": "DejaVu Sans", "fontWeight": 200, "color": "black"},
   "encoding": {
    "x": {"field": "h", "type": "quantitative", "scale": {"domain": [8, 24], "nice": false, "zero": false}, "axis": null},
    "y": {"field": "v", "type": "quantitative", "scale": {"domain": [-2000, -500], "nice": false, "zero": false}, "axis": null},
    "text": {"field": "t"}
   }}
 ],
 "resolve": {"axis": {"x": "independent", "y": "independent"}}
},
{"width": 469, "height": 296,
 "layer": [
  {"data": {"name": "B"}, "mark": {"type": "line", "color": "black", "strokeWidth": 1.6},
   "encoding": {
    "x": {"field": "h", "type": "quantitative", "scale": {"domain": [8, 24], "nice": false, "zero": false},
      "axis": {"orient": "bottom", "title": "Hour", "format": "d", "values": [8,9,10,11,12,13,14,15,16,17,18,19,20,21,22,23,24], "labelExpr": "datum.value % 5 === 0 ? datum.label : ''", "tickSize": {"condition": {"test": "datum.value % 5 === 0", "value": -7}, "value": -4}, "labelPadding": 19, "titlePadding": 4, "labelOverlap": false, "labelFlush": false}},
    "y": {"field": "v", "type": "quantitative", "scale": {"domain": [800, 2200], "nice": false, "zero": false},
      "axis": {"orient": "left", "title": "Max V (m/s)", "format": "d", "values": [800,850,900,950,1000,1050,1100,1150,1200,1250,1300,1350,1400,1450,1500,1550,1600,1650,1700,1750,1800,1850,1900,1950,2000,2050,2100,2150,2200], "labelExpr": "datum.value % 200 === 0 ? datum.label : ''", "tickSize": {"condition": {"test": "datum.value % 200 === 0", "value": -7}, "value": -4}, "labelPadding": 12, "titlePadding": 12, "labelFlush": true, "labelOverlap": false}}
   }},
  {"data": {"name": "vl"}, "mark": {"type": "rule", "color": "black", "strokeWidth": 1.2},
   "encoding": {
    "x": {"field": "h", "type": "quantitative", "scale": {"domain": [8, 24], "nice": false, "zero": false},
      "axis": {"orient": "top", "title": null, "labels": false, "values": [8,9,10,11,12,13,14,15,16,17,18,19,20,21,22,23,24], "tickSize": {"condition": {"test": "datum.value % 5 === 0", "value": -7}, "value": -4}}},
    "strokeDash": {"field": "k", "type": "nominal", "scale": {"domain": ["dot", "dash"], "range": [[1.5, 3.5], [12, 6]]}, "legend": null}
   }},
  {"data": {"name": "arB"}, "mark": {"type": "line", "color": "black", "strokeWidth": 1.2},
   "encoding": {
    "x": {"field": "h", "type": "quantitative", "scale": {"domain": [8, 24], "nice": false, "zero": false}, "axis": null},
    "y": {"field": "v", "type": "quantitative", "scale": {"domain": [800, 2200], "nice": false, "zero": false},
      "axis": {"orient": "right", "title": null, "labels": false, "values": [800,850,900,950,1000,1050,1100,1150,1200,1250,1300,1350,1400,1450,1500,1550,1600,1650,1700,1750,1800,1850,1900,1950,2000,2050,2100,2150,2200], "tickSize": {"condition": {"test": "datum.value % 200 === 0", "value": -7}, "value": -4}}},
    "detail": {"field": "id"}
   }},
  {"data": {"name": "tB"}, "mark": {"type": "text", "align": "left", "baseline": "alphabetic", "fontSize": 21, "font": "DejaVu Sans", "fontWeight": 200, "color": "black"},
   "encoding": {
    "x": {"field": "h", "type": "quantitative", "scale": {"domain": [8, 24], "nice": false, "zero": false}, "axis": null},
    "y": {"field": "v", "type": "quantitative", "scale": {"domain": [800, 2200], "nice": false, "zero": false}, "axis": null},
    "text": {"field": "t"}
   }}
 ],
 "resolve": {"axis": {"x": "independent", "y": "independent"}}
},
{"width": 469, "height": 295,
 "layer": [
  {"data": {"name": "C"}, "mark": {"type": "line", "color": "black", "strokeWidth": 1.6},
   "encoding": {
    "x": {"field": "h", "type": "quantitative", "scale": {"domain": [8, 24], "nice": false, "zero": false},
      "axis": {"orient": "bottom", "title": "Hour", "format": "d", "values": [8,9,10,11,12,13,14,15,16,17,18,19,20,21,22,23,24], "labelExpr": "datum.value % 5 === 0 ? datum.label : ''", "tickSize": {"condition": {"test": "datum.value % 5 === 0", "value": -7}, "value": -4}, "labelPadding": 19, "titlePadding": 4, "labelOverlap": false, "labelFlush": false}},
    "y": {"field": "v", "type": "quantitative", "scale": {"domain": [-2500, -1000], "nice": false, "zero": false},
      "axis": {"orient": "left", "title": "Min V (m/s)", "format": "d", "values": [-2500,-2450,-2400,-2350,-2300,-2250,-2200,-2150,-2100,-2050,-2000,-1950,-1900,-1850,-1800,-1750,-1700,-1650,-1600,-1550,-1500,-1450,-1400,-1350,-1300,-1250,-1200,-1150,-1100,-1050,-1000], "labelExpr": "datum.value % 200 === 0 ? datum.label : ''", "tickSize": {"condition": {"test": "datum.value % 200 === 0", "value": -7}, "value": -4}, "labelPadding": 12, "titlePadding": 12, "labelFlush": true, "labelOverlap": false}}
   }},
  {"data": {"name": "vl"}, "mark": {"type": "rule", "color": "black", "strokeWidth": 1.2},
   "encoding": {
    "x": {"field": "h", "type": "quantitative", "scale": {"domain": [8, 24], "nice": false, "zero": false},
      "axis": {"orient": "top", "title": null, "labels": false, "values": [8,9,10,11,12,13,14,15,16,17,18,19,20,21,22,23,24], "tickSize": {"condition": {"test": "datum.value % 5 === 0", "value": -7}, "value": -4}}},
    "strokeDash": {"field": "k", "type": "nominal", "scale": {"domain": ["dot", "dash"], "range": [[1.5, 3.5], [12, 6]]}, "legend": null}
   }},
  {"data": {"name": "arC"}, "mark": {"type": "line", "color": "black", "strokeWidth": 1.2},
   "encoding": {
    "x": {"field": "h", "type": "quantitative", "scale": {"domain": [8, 24], "nice": false, "zero": false}, "axis": null},
    "y": {"field": "v", "type": "quantitative", "scale": {"domain": [-2500, -1000], "nice": false, "zero": false},
      "axis": {"orient": "right", "title": null, "labels": false, "values": [-2500,-2450,-2400,-2350,-2300,-2250,-2200,-2150,-2100,-2050,-2000,-1950,-1900,-1850,-1800,-1750,-1700,-1650,-1600,-1550,-1500,-1450,-1400,-1350,-1300,-1250,-1200,-1150,-1100,-1050,-1000], "tickSize": {"condition": {"test": "datum.value % 200 === 0", "value": -7}, "value": -4}}},
    "detail": {"field": "id"}
   }},
  {"data": {"name": "tC"}, "mark": {"type": "text", "align": "left", "baseline": "alphabetic", "fontSize": 21, "font": "DejaVu Sans", "fontWeight": 200, "color": "black"},
   "encoding": {
    "x": {"field": "h", "type": "quantitative", "scale": {"domain": [8, 24], "nice": false, "zero": false}, "axis": null},
    "y": {"field": "v", "type": "quantitative", "scale": {"domain": [-2500, -1000], "nice": false, "zero": false}, "axis": null},
    "text": {"field": "t"}
   }}
 ],
 "resolve": {"axis": {"x": "independent", "y": "independent"}}
},
{"width": 469, "height": 295,
 "layer": [
  {"data": {"name": "D"}, "mark": {"type": "line", "color": "black", "strokeWidth": 1.6},
   "encoding": {
    "x": {"field": "h", "type": "quantitative", "scale": {"domain": [8, 24], "nice": false, "zero": false},
      "axis": {"orient": "bottom", "title": "Hour", "format": "d", "values": [8,9,10,11,12,13,14,15,16,17,18,19,20,21,22,23,24], "labelExpr": "datum.value % 5 === 0 ? datum.label : ''", "tickSize": {"condition": {"test": "datum.value % 5 === 0", "value": -7}, "value": -4}, "labelPadding": 19, "titlePadding": 4, "labelOverlap": false, "labelFlush": false}},
    "y": {"field": "v", "type": "quantitative", "scale": {"domain": [200, 2000], "nice": false, "zero": false},
      "axis": {"orient": "left", "title": "Max V (m/s)", "format": "d", "values": [200,300,400,500,600,700,800,900,1000,1100,1200,1300,1400,1500,1600,1700,1800,1900,2000], "labelExpr": "datum.value % 500 === 0 ? datum.label : ''", "tickSize": {"condition": {"test": "datum.value % 500 === 0", "value": -7}, "value": -4}, "labelPadding": 12, "titlePadding": 12, "labelFlush": true, "labelOverlap": false}}
   }},
  {"data": {"name": "vl"}, "mark": {"type": "rule", "color": "black", "strokeWidth": 1.2},
   "encoding": {
    "x": {"field": "h", "type": "quantitative", "scale": {"domain": [8, 24], "nice": false, "zero": false},
      "axis": {"orient": "top", "title": null, "labels": false, "values": [8,9,10,11,12,13,14,15,16,17,18,19,20,21,22,23,24], "tickSize": {"condition": {"test": "datum.value % 5 === 0", "value": -7}, "value": -4}}},
    "strokeDash": {"field": "k", "type": "nominal", "scale": {"domain": ["dot", "dash"], "range": [[1.5, 3.5], [12, 6]]}, "legend": null}
   }},
  {"data": {"name": "arD"}, "mark": {"type": "line", "color": "black", "strokeWidth": 1.2},
   "encoding": {
    "x": {"field": "h", "type": "quantitative", "scale": {"domain": [8, 24], "nice": false, "zero": false}, "axis": null},
    "y": {"field": "v", "type": "quantitative", "scale": {"domain": [200, 2000], "nice": false, "zero": false},
      "axis": {"orient": "right", "title": null, "labels": false, "values": [200,300,400,500,600,700,800,900,1000,1100,1200,1300,1400,1500,1600,1700,1800,1900,2000], "tickSize": {"condition": {"test": "datum.value % 500 === 0", "value": -7}, "value": -4}}},
    "detail": {"field": "id"}
   }},
  {"data": {"name": "tD"}, "mark": {"type": "text", "align": "left", "baseline": "alphabetic", "fontSize": 21, "font": "DejaVu Sans", "fontWeight": 200, "color": "black"},
   "encoding": {
    "x": {"field": "h", "type": "quantitative", "scale": {"domain": [8, 24], "nice": false, "zero": false}, "axis": null},
    "y": {"field": "v", "type": "quantitative", "scale": {"domain": [200, 2000], "nice": false, "zero": false}, "axis": null},
    "text": {"field": "t"}
   }}
 ],
 "resolve": {"axis": {"x": "independent", "y": "independent"}}
}
]
}
